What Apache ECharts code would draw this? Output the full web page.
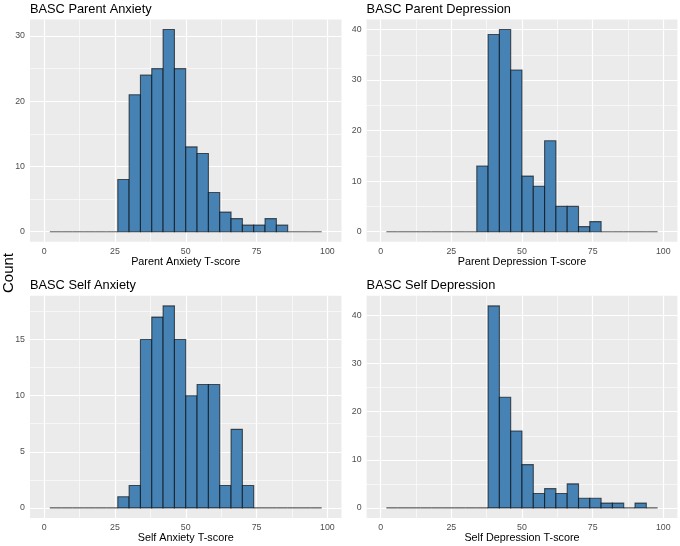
<!DOCTYPE html>
<html>
<head>
<meta charset="utf-8">
<script src="https://cdn.jsdelivr.net/npm/echarts@6/dist/echarts.min.js"></script>
<style>
html,body{margin:0;padding:0;background:#fff;}
#chart{width:680px;height:546px;}
</style>
</head>
<body>
<div id="chart"></div>
<script>
// Histogram bin edges (binwidth 4)
var binStarts = [2,6,10,14,18,22,26,30,34,38,42,46,50,54,58,62,66,70,74,78,82,86,90,94];
var binEnds   = [6,10,14,18,22,26,30,34,38,42,46,50,54,58,62,66,70,74,78,82,86,90,94,98];

var parentAnxiety    = [0,0,0,0,0,0, 8,21,24,25,31,25,13,12,6,3,2,1,1,2,1, 0,0,0];
var parentDepression = [0,0,0,0,0,0,0,0, 13,39,40,32,11,9,18,5,5,1,2, 0,0,0,0,0];
var selfAnxiety      = [0,0,0,0,0,0, 1,2,15,17,18,15,10,11,11,2,7,2, 0,0,0,0,0,0];
var selfDepression   = [0,0,0,0,0,0,0,0,0, 42,23,16,9,3,4,3,5,2,2,1,1,0,1,0];

var panelTitles = ['BASC Parent Anxiety','BASC Parent Depression','BASC Self Anxiety','BASC Self Depression'];
var xTitles = ['Parent Anxiety T-score','Parent Depression T-score','Self Anxiety T-score','Self Depression T-score'];

var xMajor = [0,25,50,75,100];
var xMinor = [12.5,37.5,62.5,87.5];
var yMajor = [[0,10,20,30],[0,10,20,30,40],[0,5,10,15],[0,10,20,30,40]];
var yMinor = [[5,15,25],[5,15,25,35],[2.5,7.5,12.5,17.5],[5,15,25,35]];

var counts = [parentAnxiety, parentDepression, selfAnxiety, selfDepression];

var FONT = 'Liberation Sans, Arial, Helvetica, sans-serif';

var grids = [
  {left:30,    top:19.4,  width:311.5, height:222.4},
  {left:366.6, top:19.4,  width:310.8, height:222.4},
  {left:30,    top:295.8, width:311.5, height:222.2},
  {left:366.6, top:295.8, width:310.8, height:222.2}
];

var option = {
  animation:false,
  backgroundColor:'#ffffff',
  title:[],
  grid:[],
  xAxis:[],
  yAxis:[],
  series:[],
  graphic:[{
    type:'text', x:9, y:273, rotation:Math.PI/2,
    style:{text:'Count', font:'15px '+FONT, fill:'#000', textAlign:'center', textVerticalAlign:'middle'}
  }]
};

for (var i=0;i<4;i++){
  var g = grids[i];
  option.grid.push({left:g.left, top:g.top, width:g.width, height:g.height, show:true, backgroundColor:'#EBEBEB', borderWidth:0, containLabel:false});
  option.title.push({
    text:panelTitles[i], left:g.left, top:g.top-16.6, padding:0,
    textStyle:{fontFamily:FONT, fontSize:12.8, fontWeight:'normal', color:'#000'}
  });
  var maxC = Math.max.apply(null, counts[i]);
  option.xAxis.push({
    type:'value', gridIndex:i, min:-5, max:105,
    name:xTitles[i], nameLocation:'middle', nameGap:14,
    nameTextStyle:{fontFamily:FONT, fontSize:10.8, color:'#000'},
    axisLine:{show:false},
    axisTick:{show:true, length:3, lineStyle:{color:'#333333', width:1}, customValues:xMajor},
    axisLabel:{fontFamily:FONT, fontSize:8.8, color:'#4D4D4D', margin:5, customValues:xMajor},
    splitLine:{show:false}
  });
  option.yAxis.push({
    type:'value', gridIndex:i, min:-0.05*maxC, max:1.05*maxC,
    axisLine:{show:false},
    axisTick:{show:true, length:3, lineStyle:{color:'#333333', width:1}, customValues:yMajor[i]},
    axisLabel:{fontFamily:FONT, fontSize:8.8, color:'#4D4D4D', margin:5, customValues:yMajor[i]},
    splitLine:{show:false}
  });
  // gridlines helper
  var ml = [];
  xMinor.forEach(function(v){ ml.push({xAxis:v, lineStyle:{color:'#ffffff', width:0.6, type:'solid'}}); });
  yMinor[i].forEach(function(v){ ml.push({yAxis:v, lineStyle:{color:'#ffffff', width:0.6, type:'solid'}}); });
  xMajor.forEach(function(v){ ml.push({xAxis:v, lineStyle:{color:'#ffffff', width:1.2, type:'solid'}}); });
  yMajor[i].forEach(function(v){ ml.push({yAxis:v, lineStyle:{color:'#ffffff', width:1.2, type:'solid'}}); });
  option.series.push({
    type:'line', xAxisIndex:i, yAxisIndex:i, data:[], z:1, silent:true,
    markLine:{silent:true, z:1, symbol:['none','none'], label:{show:false}, emphasis:{disabled:true}, data:ml, animation:false}
  });
  var data = [];
  for (var k=0;k<binStarts.length;k++) data.push([binStarts[k], binEnds[k], counts[i][k]]);
  option.series.push({
    type:'custom', xAxisIndex:i, yAxisIndex:i, z:10, silent:true,
    encode:{x:[0,1], y:2},
    data:data,
    renderItem:function(params, api){
      var x0 = api.value(0), x1 = api.value(1), c = api.value(2);
      var p0 = api.coord([x0, c]);
      var p1 = api.coord([x1, 0]);
      return {
        type:'rect',
        shape:{x:p0[0], y:p0[1], width:p1[0]-p0[0], height:p1[1]-p0[1]},
        style:{fill: c>0 ? '#4682B4' : 'none', stroke:'rgba(0,0,0,0.62)', lineWidth:1.1}
      };
    }
  });
}

var chart = echarts.init(document.getElementById('chart'), null, {renderer:'canvas'});
chart.setOption(option);
</script>
</body>
</html>
